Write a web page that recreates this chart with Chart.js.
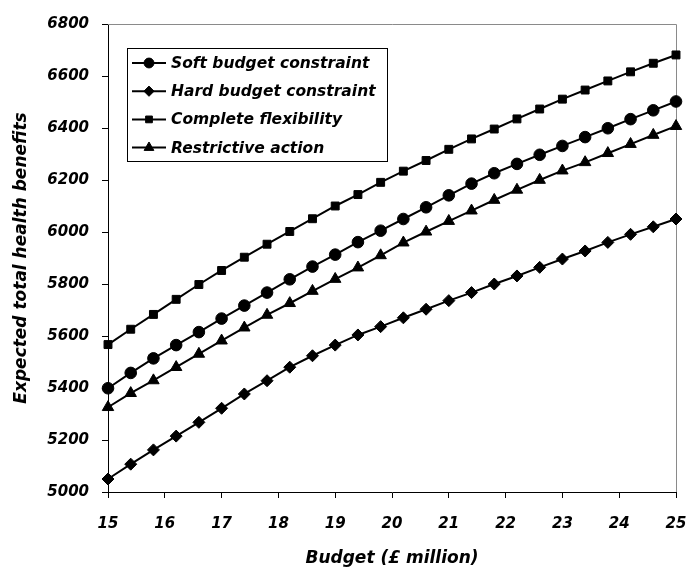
<!DOCTYPE html>
<html>
<head>
<meta charset="utf-8">
<script src="https://cdn.jsdelivr.net/npm/chart.js@4/dist/chart.umd.min.js"></script>
<style>
  html, body { margin: 0; padding: 0; background: #fff; }
  #wrap { width: 688px; height: 572px; }
</style>
</head>
<body>
<div id="wrap"><canvas id="healthChart" width="688" height="572"></canvas></div>
<script>
// Budget in £ million, one point every 0.4
const budget = [15, 15.4, 15.8, 16.2, 16.6, 17, 17.4, 17.8, 18.2, 18.6, 19, 19.4, 19.8,
  20.2, 20.6, 21, 21.4, 21.8, 22.2, 22.6, 23, 23.4, 23.8, 24.2, 24.6, 25];

const seriesNames = ["Soft budget constraint", "Hard budget constraint",
  "Complete flexibility", "Restrictive action"];

const softBudget = [5399, 5458, 5514, 5565, 5615, 5667, 5717, 5767, 5818, 5867, 5913, 5961, 6005,
  6050, 6095, 6141, 6186, 6226, 6262, 6297, 6331, 6365, 6399, 6434, 6468, 6502];
const hardBudget = [5050, 5107, 5162, 5215, 5268, 5322, 5377, 5428, 5480, 5524, 5565, 5604, 5636,
  5670, 5703, 5736, 5767, 5800, 5831, 5864, 5896, 5927, 5960, 5991, 6020, 6050];
const completeFlex = [5567, 5626, 5683, 5741, 5798, 5852, 5903, 5953, 6002, 6051, 6100, 6144, 6191,
  6234, 6275, 6318, 6358, 6396, 6435, 6473, 6511, 6546, 6581, 6616, 6649, 6681];
const restrictive = [5326, 5380, 5429, 5480, 5531, 5582, 5632, 5681, 5726, 5773, 5819, 5863, 5910,
  5959, 6001, 6042, 6082, 6123, 6162, 6200, 6236, 6268, 6303, 6338, 6373, 6407];

const xTicks = [15, 16, 17, 18, 19, 20, 21, 22, 23, 24, 25];
const yTicks = [5000, 5200, 5400, 5600, 5800, 6000, 6200, 6400, 6600, 6800];

const FONT = "'DejaVu Sans', Verdana, sans-serif";

function toPoints(values) {
  return values.map((v, i) => ({ x: budget[i], y: v }));
}

function makeSet(label, values, style, radius) {
  return {
    label: label,
    data: toPoints(values),
    borderColor: "#000",
    backgroundColor: "#000",
    borderWidth: 2,
    pointStyle: style,
    pointRadius: radius,
    pointBorderWidth: 1,
    pointHoverRadius: radius,
    tension: 0,
    clip: false,
  };
}

// grey frame on the top and right of the plot area
const frameLines = {
  id: "frameLines",
  beforeDatasetsDraw(chart) {
    const { ctx, chartArea: a } = chart;
    ctx.save();
    ctx.strokeStyle = "#8a8a8a";
    ctx.lineWidth = 1;
    ctx.beginPath();
    ctx.moveTo(a.left, a.top + 0.5);
    ctx.lineTo(a.right + 0.5, a.top + 0.5);
    ctx.lineTo(a.right + 0.5, a.bottom);
    ctx.stroke();
    ctx.restore();
  },
};

// boxed legend inside the plot, line + marker per series
const boxLegend = {
  id: "boxLegend",
  afterDraw(chart) {
    const { ctx } = chart;
    const box = { left: 127, top: 48, right: 387, bottom: 161 };
    ctx.save();
    ctx.fillStyle = "#fff";
    ctx.fillRect(box.left, box.top, box.right - box.left, box.bottom - box.top);
    ctx.strokeStyle = "#000";
    ctx.lineWidth = 1;
    ctx.strokeRect(box.left + 0.5, box.top + 0.5, box.right - box.left, box.bottom - box.top);
    ctx.font = "italic bold 15.5px " + FONT;
    ctx.textBaseline = "middle";
    chart.data.datasets.forEach((ds, i) => {
      const y = 63 + i * 28.2;
      ctx.strokeStyle = "#000";
      ctx.lineWidth = 2;
      ctx.beginPath();
      ctx.moveTo(132, y);
      ctx.lineTo(166, y);
      ctx.stroke();
      ctx.fillStyle = "#000";
      ctx.lineWidth = 1;
      Chart.helpers.drawPoint(ctx, {
        pointStyle: ds.pointStyle,
        radius: ds.pointRadius * 0.85,
        borderWidth: 1,
        rotation: 0,
      }, 149, y);
      ctx.fillStyle = "#000";
      ctx.fillText(ds.label, 171, y + 1);
    });
    ctx.restore();
  },
};

const tickFont = { family: FONT, size: 15, weight: "bold", style: "italic" };
const titleFont = { family: FONT, size: 17, weight: "bold", style: "italic" };

new Chart(document.getElementById("healthChart"), {
  type: "line",
  data: {
    datasets: [
      makeSet(seriesNames[0], softBudget, "circle", 5.8),
      makeSet(seriesNames[1], hardBudget, "rectRot", 6),
      makeSet(seriesNames[2], completeFlex, "rect", 5.6),
      makeSet(seriesNames[3], restrictive, "triangle", 6.6),
    ],
  },
  options: {
    responsive: false,
    animation: false,
    layout: { padding: { top: 24, right: 12, left: 0, bottom: 0 } },
    plugins: {
      legend: { display: false },
      tooltip: { enabled: false },
    },
    scales: {
      x: {
        type: "linear",
        min: 15,
        max: 25,
        afterFit(scale) {
          scale.height = 80;
          scale.paddingLeft = 0;
          scale.paddingRight = 0;
        },
        afterBuildTicks(scale) { scale.ticks = xTicks.map((v) => ({ value: v })); },
        ticks: { color: "#000", font: tickFont, padding: 17, maxRotation: 0 },
        grid: { drawOnChartArea: false, drawTicks: true, tickLength: 6, color: "#000" },
        border: { color: "#000", width: 1 },
        title: {
          display: true,
          text: "Budget (£ million)",
          color: "#000",
          font: titleFont,
          padding: { top: 0, bottom: 3 },
        },
      },
      y: {
        min: 5000,
        max: 6800,
        afterFit(scale) {
          scale.width = 108;
          scale.paddingTop = 0;
          scale.paddingBottom = 0;
        },
        afterBuildTicks(scale) { scale.ticks = yTicks.map((v) => ({ value: v })); },
        ticks: { color: "#000", font: tickFont, padding: 13, callback: (v) => String(v) },
        grid: { drawOnChartArea: false, drawTicks: true, tickLength: 6, color: "#000" },
        border: { color: "#000", width: 1 },
        title: {
          display: true,
          text: "Expected total health benefits",
          color: "#000",
          font: titleFont,
          padding: { top: 11, bottom: 0 },
        },
      },
    },
  },
  plugins: [frameLines, boxLegend],
});
</script>
</body>
</html>
